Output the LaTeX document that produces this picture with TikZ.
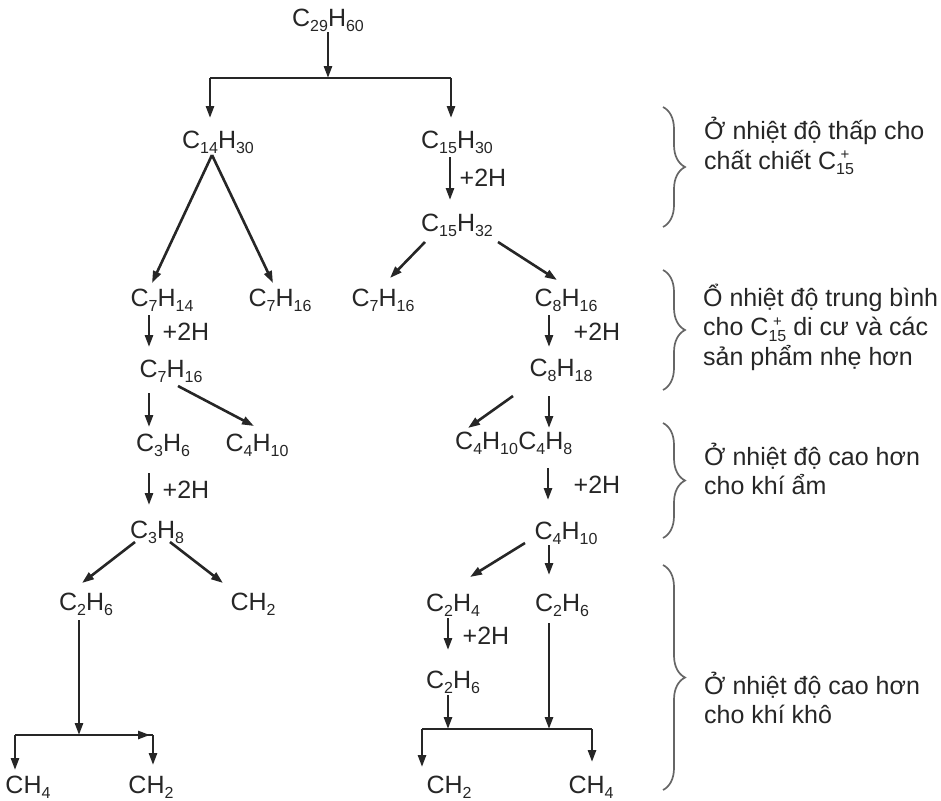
\documentclass[tikz,border=0pt]{standalone}
\usepackage{fontspec}
\setmainfont{Liberation Sans}
\usetikzlibrary{arrows.meta,calc,decorations.pathreplacing}
\newcommand\sbs[1]{\raisebox{-5.5pt}{\fontsize{16}{16}\selectfont #1}}
\newcommand\cplus{C\rlap{\raisebox{9.5pt}{\fontsize{15}{15}\selectfont\hspace{4.5pt}+}}\raisebox{-5.5pt}{\fontsize{16}{16}\selectfont 15}}
\definecolor{ink}{HTML}{262626}
\begin{document}
\begin{tikzpicture}[x=1pt,y=-1pt,
  chem/.style={inner sep=0pt, text height=18pt, text depth=5.5pt, text=ink, font=\fontsize{25}{29}\selectfont},
  lbl/.style={anchor=west, align=left, inner sep=0pt, text=ink, font=\fontsize{25}{29.5}\selectfont},
  hlab/.style={inner sep=0pt, text=ink, font=\fontsize{25}{29}\selectfont},
  arr/.style={line width=2.6pt, draw=ink, -{Triangle[length=12pt,width=8pt]}},
  ln/.style={line width=2.6pt, draw=ink},
  brc/.style={draw=black!60, line width=1.7pt, decorate, decoration={brace, amplitude=22pt}}]
\useasboundingbox (0,0) rectangle (941,800);

% nodes
\node[chem] (c29) at (328,20) {C\sbs{29}H\sbs{60}};
\node[chem] (c14) at (218,142) {C\sbs{14}H\sbs{30}};
\node[chem] (c15a) at (457,142) {C\sbs{15}H\sbs{30}};
\node[chem] (c15b) at (457,225) {C\sbs{15}H\sbs{32}};
\node[chem] (c7a) at (162,300) {C\sbs{7}H\sbs{14}};
\node[chem] (c7b) at (280,300) {C\sbs{7}H\sbs{16}};
\node[chem] (c7c) at (383,300) {C\sbs{7}H\sbs{16}};
\node[chem] (c8a) at (566,300) {C\sbs{8}H\sbs{16}};
\node[chem] (c7d) at (171,371) {C\sbs{7}H\sbs{16}};
\node[chem] (c8b) at (561,370) {C\sbs{8}H\sbs{18}};
\node[chem] (c3a) at (163,445) {C\sbs{3}H\sbs{6}};
\node[chem] (c4a) at (257,445) {C\sbs{4}H\sbs{10}};
\node[chem, anchor=west] (c4b) at (455,443) {C\sbs{4}H\sbs{10}};
\node[chem, anchor=west] (c4c) at (c4b.east) {C\sbs{4}H\sbs{8}};
\node[chem] (c3b) at (157,532) {C\sbs{3}H\sbs{8}};
\node[chem] (c2a) at (86,604) {C\sbs{2}H\sbs{6}};
\node[chem] (ch2a) at (253,604) {CH\sbs{2}};
\node[chem] (c4d) at (566,533) {C\sbs{4}H\sbs{10}};
\node[chem] (c2b) at (453,605) {C\sbs{2}H\sbs{4}};
\node[chem] (c2c) at (562,605) {C\sbs{2}H\sbs{6}};
\node[chem] (c2d) at (453,682) {C\sbs{2}H\sbs{6}};
\node[chem] (ch4a) at (28,787) {CH\sbs{4}};
\node[chem] (ch2b) at (151,787) {CH\sbs{2}};
\node[chem] (ch2c) at (449,787) {CH\sbs{2}};
\node[chem] (ch4b) at (591,787) {CH\sbs{4}};

% +2H labels
\node[hlab] (h1) at (483,178) {+2H};
\node[hlab] (h2) at (186,332) {+2H};
\node[hlab] (h3) at (597,332) {+2H};
\node[hlab] (h4) at (597,485) {+2H};
\node[hlab] (h5) at (186,490) {+2H};
\node[hlab] (h6) at (486,636) {+2H};

% junctions
\coordinate (j1) at (328,78);
\coordinate (jL) at (210,78);
\coordinate (jR) at (451,78);
\coordinate (j2) at (79,735);
\coordinate (bL) at (15,735);
\coordinate (bR) at (153,735);
\coordinate (bRm) at (150,735);
\coordinate (j3) at (448,729);
\coordinate (j4) at (549,729);
\coordinate (cL) at (422,729);
\coordinate (cR) at (592,729);

% top split
\draw[arr] (c29) -- (j1);
\draw[ln] (jL) -- (jR);
\draw[arr] (jL) -- ($(c14)+(-8,-24)$);
\draw[arr] (jR) -- ($(c15a)+(-6,-24)$);

% left branch
\draw[arr] ($(c14)+(-6,13)$) -- ($(c7a)+(-10,-17)$);
\draw[arr] ($(c14)+(-6,13)$) -- ($(c7b)+(-7,-17)$);
\draw[arr] ($(c7a)+(-13,15)$) -- ($(c7d)+(-22,-24)$);
\draw[arr] ($(c7d)+(-22,22)$) -- ($(c3a)+(-14,-18)$);
\draw[arr] ($(c7d)+(7,15)$) -- ($(c4a)+(-3,-19)$);
\draw[arr] ($(c3a)+(-14,28)$) -- ($(c3b)+(-8,-27)$);
\draw[arr] ($(c3b)+(-22,10)$) -- ($(c2a)+(-4,-21)$);
\draw[arr] ($(c3b)+(13,10)$) -- ($(ch2a)+(-30,-21)$);
\draw[arr] ($(c2a)+(-7,16)$) -- (j2);
\draw[ln] (bL) -- (bR);
\draw[arr] (j2) -- (bRm);
\draw[arr] (bL) -- ($(ch4a)+(-13,-17)$);
\draw[arr] (bR) -- ($(ch2b)+(2,-22)$);

% right branch
\draw[arr] ($(c15a)+(-7,15)$) -- ($(c15b)+(-7,-25)$);
\draw[arr] ($(c15b)+(-32,17)$) -- ($(c7c)+(7,-22)$);
\draw[arr] ($(c15b)+(41,17)$) -- ($(c8a)+(-9,-20)$);
\draw[arr] ($(c8a)+(-17,15)$) -- ($(c8b)+(-12,-23)$);
\draw[arr] ($(c8b)+(-48,26)$) -- ($(c4b.west)+(13,-15)$);
\draw[arr] ($(c8b)+(-12,26)$) -- ($(c8b)+(-12,58)$);
\draw[arr] ($(c8b)+(-13,98)$) -- ($(c4d)+(-18,-33)$);
\draw[arr] ($(c4d)+(-41,10)$) -- ($(c2b)+(17,-28)$);
\draw[arr] ($(c4d)+(-17,12)$) -- ($(c2c)+(-13,-30)$);
\draw[arr] ($(c2b)+(-5,13)$) -- ($(c2d)+(-5,-32)$);
\draw[arr] ($(c2d)+(-5,13)$) -- (j3);
\draw[arr] ($(c2c)+(-13,18)$) -- (j4);
\draw[ln] (cL) -- (cR);
\draw[arr] (cL) -- ($(ch2c)+(-27,-20)$);
\draw[arr] (cR) -- ($(ch4b)+(1,-25)$);

% braces
\coordinate (b1t) at (663,107); \coordinate (b1b) at (663,227);
\coordinate (b2t) at (663,270); \coordinate (b2b) at (663,390);
\coordinate (b3t) at (663,423); \coordinate (b3b) at (663,538);
\coordinate (b4t) at (663,565); \coordinate (b4b) at (663,790);
\draw[brc] (b1t) -- (b1b);
\draw[brc] (b2t) -- (b2b);
\draw[brc] (b3t) -- (b3b);
\draw[brc] (b4t) -- (b4b);

% labels
\node[lbl] (l1) at (704,146) {Ở nhiệt độ thấp cho\\chất chiết \cplus};
\node[lbl] (l2) at (703,327) {Ổ nhiệt độ trung bình\\cho \cplus{} di cư và các\\sản phẩm nhẹ hơn};
\node[lbl] (l3) at (704,469) {Ở nhiệt độ cao hơn\\cho khí ẩm};
\node[lbl] (l4) at (704,698) {Ở nhiệt độ cao hơn\\cho khí khô};
\end{tikzpicture}
\end{document}
